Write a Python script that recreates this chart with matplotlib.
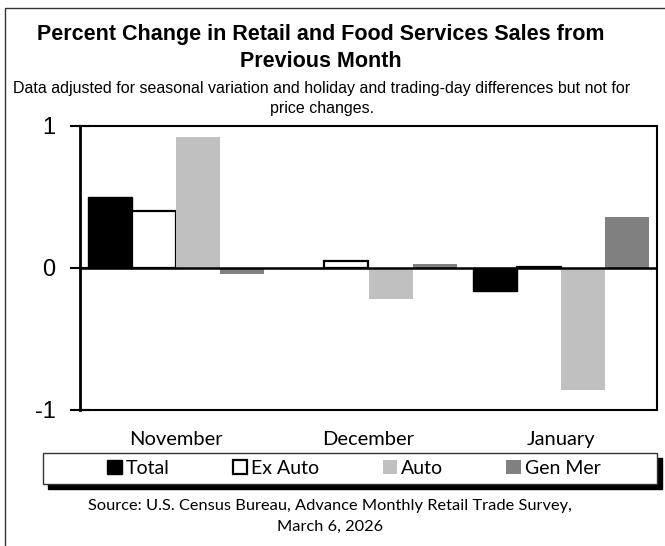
import numpy as np
import matplotlib
matplotlib.use("Agg")
import matplotlib.pyplot as plt
from matplotlib.patches import Rectangle

# ---- data ----
months = ["November", "December", "January"]
total = [0.50, 0.00, -0.16]
ex_auto = [0.40, 0.05, 0.01]
auto = [0.92, -0.22, -0.86]
gen_mer = [-0.04, 0.03, 0.36]
series_names = ["Total", "Ex Auto", "Auto", "Gen Mer"]
y_ticks = [-1, 0, 1]

title = "Percent Change in Retail and Food Services Sales from\nPrevious Month"
subtitle = ("Data adjusted for seasonal variation and holiday and trading-day "
            "differences but not for\nprice changes.")
source = ("Source: U.S. Census Bureau, Advance Monthly Retail Trade Survey,\n"
          "March 6, 2026")

W, H = 665, 546
fig = plt.figure(figsize=(W / 100, H / 100), dpi=100)

# outer frame (only left and top edges are inside the picture)
fig.patches.append(Rectangle((5 / W, -0.1), 2.0, 1.1 - 8 / H,
                             transform=fig.transFigure, fill=False,
                             edgecolor="#333333", lw=1.0))

ax = fig.add_axes([80 / W, (H - 410) / H, (657 - 80) / W, (410 - 126) / H])

x = np.arange(len(months))
w = 0.229
styles = [
    dict(color="black", edgecolor="black", lw=1.0),
    dict(color="white", edgecolor="black", lw=1.6),
    dict(color="#c0c0c0", edgecolor="none", lw=0),
    dict(color="#808080", edgecolor="none", lw=0),
]
handles = []
for i, vals in enumerate([total, ex_auto, auto, gen_mer]):
    st = styles[i]
    b = ax.bar(x + (i - 1.5) * w, vals, w, color=st["color"],
               edgecolor=st["edgecolor"], linewidth=st["lw"], zorder=2,
               label=series_names[i])
    handles.append(b)

ax.axhline(0, color="black", lw=1.8, zorder=3)
ax.set_xlim(-0.5, 2.5)
ax.set_ylim(-1, 1)
ax.set_yticks(y_ticks)
ax.set_yticklabels([str(t) for t in y_ticks], family="Liberation Sans",
                   fontsize=17)
ax.tick_params(axis="y", direction="inout", length=15, width=1.5, pad=10)
ax.set_xticks(x)
ax.set_xticklabels(months, family="Lato", fontsize=14.5)
ax.tick_params(axis="x", length=0, pad=15)

for side in ["top", "right", "bottom"]:
    ax.spines[side].set_linewidth(1.5)
ax.spines["left"].set_linewidth(2.0)

# titles
fig.text(321 / W, 1 - 24 / H, title, ha="center", va="top",
         family="Liberation Sans", fontweight="bold", fontsize=15.5,
         linespacing=1.4)
fig.text(322 / W, 1 - 81 / H, subtitle, ha="center", va="top",
         family="Liberation Sans", fontsize=11.5, linespacing=1.42)

# legend box with black shadow
lx0, lx1, ly0, ly1 = 43, 657, 453, 484
fig.patches.append(Rectangle(((lx0 + 5) / W, (H - ly1 - 5) / H),
                             (lx1 - lx0) / W, (ly1 - ly0) / H,
                             transform=fig.transFigure, facecolor="black",
                             edgecolor="black", lw=1.0, zorder=1))
fig.patches.append(Rectangle((lx0 / W, (H - ly1) / H),
                             (lx1 - lx0) / W, (ly1 - ly0) / H,
                             transform=fig.transFigure, facecolor="white",
                             edgecolor="#333333", lw=1.0, zorder=2))
leg = fig.legend(handles=handles, labels=series_names, loc="center",
                 bbox_to_anchor=(354 / W, (H - 468.5) / H), ncol=4,
                 frameon=False, prop={"family": "Lato", "size": 14},
                 handlelength=0.75, handleheight=0.75, handletextpad=0.2,
                 columnspacing=3.25)
leg.set_zorder(3)

fig.text(330 / W, 1 - 499 / H, source, ha="center", va="top",
         family="Lato", fontsize=11.8, linespacing=1.6)

fig.savefig("out.png", dpi=100)
